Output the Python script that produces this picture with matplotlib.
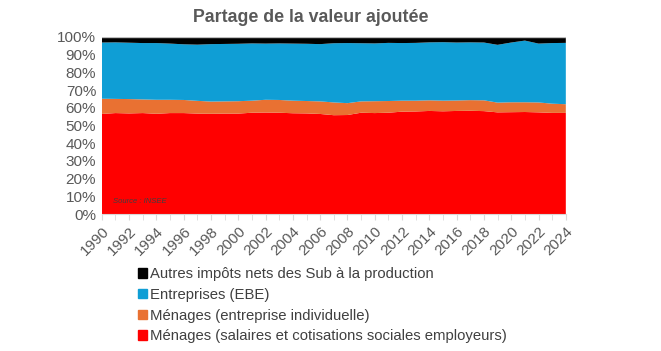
import matplotlib.pyplot as plt
from matplotlib.patches import Patch
import numpy as np

plt.rcParams['font.family'] = 'Liberation Sans'

years = list(range(1990, 2025))

# parts de la valeur ajoutée (%)
salaires = [56.5, 57.0, 56.8, 57.0, 56.6, 57.0, 57.0, 56.7, 56.6, 56.7,
            56.7, 57.2, 57.3, 57.2, 56.9, 56.8, 56.5, 55.8, 55.9, 57.2,
            57.0, 57.2, 57.8, 57.9, 58.2, 58.0, 58.2, 58.3, 58.1, 57.4,
            57.5, 57.6, 57.4, 57.1, 57.1]
ei = [8.6, 8.0, 8.1, 7.7, 7.9, 7.5, 7.4, 7.2, 6.9, 6.9,
      7.0, 6.8, 7.2, 7.2, 7.1, 7.0, 7.1, 7.2, 6.7, 6.4,
      6.7, 6.6, 6.2, 6.1, 6.0, 6.0, 5.9, 6.0, 6.1, 5.5,
      5.6, 5.5, 5.6, 5.2, 4.9]
ebe = [31.7, 31.9, 31.8, 31.8, 32.0, 31.7, 31.4, 31.7, 32.4, 32.4,
       32.4, 32.3, 31.7, 31.9, 32.2, 32.3, 32.3, 33.4, 33.9, 32.8,
       32.6, 32.8, 32.5, 32.6, 32.7, 33.0, 32.7, 32.6, 32.6, 32.6,
       33.7, 34.8, 33.2, 34.2, 34.6]
impots = [3.2, 3.1, 3.3, 3.5, 3.5, 3.8, 4.2, 4.4, 4.1, 4.0,
          3.9, 3.7, 3.8, 3.7, 3.8, 3.9, 4.1, 3.6, 3.5, 3.6,
          3.7, 3.4, 3.5, 3.4, 3.1, 3.0, 3.2, 3.1, 3.2, 4.5,
          3.2, 2.1, 3.8, 3.5, 3.4]

labels = ["Ménages (salaires et cotisations sociales employeurs)",
          "Ménages (entreprise individuelle)",
          "Entreprises (EBE)",
          "Autres impôts nets des Sub à la production"]
colors = ['#FF0000', '#E97132', '#0F9ED5', '#000000']

data = np.array([salaires, ei, ebe, impots])
data = data / data.sum(axis=0) * 100

fig = plt.figure(figsize=(6.61, 3.51), dpi=100)
ax = fig.add_axes([0.154, 0.39, 0.702, 0.505])
ax.stackplot(years, data, colors=colors, linewidth=0)

ax.set_xlim(1990, 2024)
ax.set_ylim(0, 100)
ax.set_yticks(range(0, 101, 10))
ax.set_yticklabels([f'{v}%' for v in range(0, 101, 10)])
ax.set_xticks(range(1990, 2025, 2))
ax.set_xticks(years, minor=True)
ax.set_xticklabels([str(y) for y in range(1990, 2025, 2)], rotation=45,
                   ha='right', rotation_mode='anchor')
ax.axhline(100, color='#BFBFBF', lw=1)

for s in ['left', 'top', 'right']:
    ax.spines[s].set_visible(False)
ax.spines['bottom'].set_color('#D9D9D9')
ax.tick_params(axis='y', length=0, labelsize=11, colors='#595959', pad=4)
ax.tick_params(axis='x', which='both', length=4, color='#D9D9D9',
               labelsize=11, labelcolor='#595959', pad=3)

ax.text(0.025, 0.06, 'Source : INSEE', transform=ax.transAxes,
        fontsize=5.5, style='italic', color='#404040')

fig.suptitle('Partage de la valeur ajoutée', x=0.47, y=0.975,
             fontsize=12.8, fontweight='bold', color='#595959')

handles = [Patch(color=c) for c in colors][::-1]
fig.legend(handles, labels[::-1], loc='upper left',
           bbox_to_anchor=(0.197, 0.26), frameon=False, fontsize=10.7,
           handlelength=0.6, handleheight=0.6, handletextpad=0.25,
           labelspacing=0.45, borderpad=0, labelcolor='#404040')

plt.savefig('out.png', dpi=100)
